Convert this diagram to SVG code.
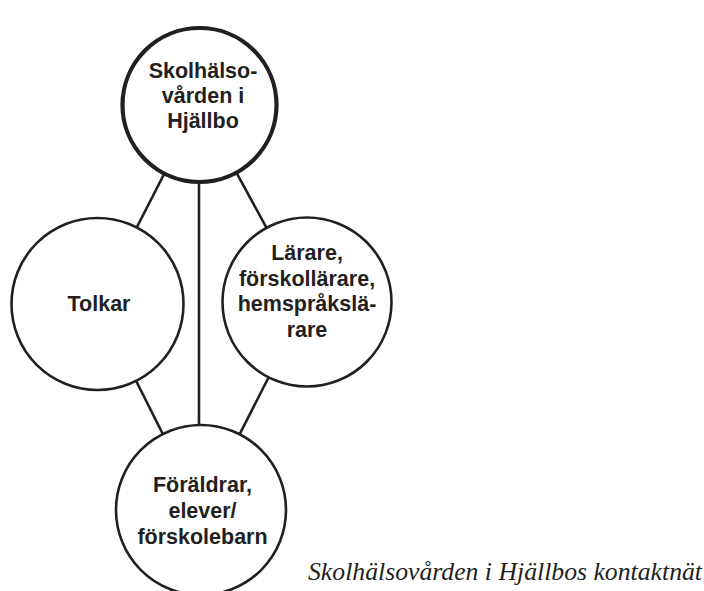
<svg xmlns="http://www.w3.org/2000/svg" width="704" height="591" viewBox="0 0 704 591">
<style>
.n{fill:#fff;stroke:#231f20;stroke-width:2.6}
.main{stroke-width:4.2}
.t{font-family:"Liberation Sans",Arial,sans-serif;font-weight:bold;font-size:21.5px;fill:#231f20;text-anchor:middle}
.c line{stroke:#231f20;stroke-width:2.6}
.cap{font-family:"Liberation Serif","Times New Roman",serif;font-style:italic;font-size:25px;fill:#231f20}
</style>
<rect width="704" height="591" fill="#fff"/>
<g id="connectors" class="c">
<line x1="199.5" y1="105" x2="97.5" y2="304"/>
<line x1="199.5" y1="105" x2="307" y2="302"/>
<line x1="199" y1="105" x2="199" y2="510"/>
<line x1="97.5" y1="304" x2="201" y2="510"/>
<line x1="307" y1="302" x2="201" y2="510"/>
</g>
<g id="skolhalsovarden">
<circle class="n main" cx="199.5" cy="105" r="77"/>
<text class="t" x="203" y="78">Skolhälso-</text>
<text class="t" x="203" y="103">vården i</text>
<text class="t" x="203" y="128">Hjällbo</text>
</g>
<g id="tolkar">
<circle class="n" cx="97.5" cy="304" r="86"/>
<text class="t" x="99" y="311">Tolkar</text>
</g>
<g id="larare">
<circle class="n" cx="307" cy="302" r="84.5"/>
<text class="t" x="307" y="260">Lärare,</text>
<text class="t" x="307" y="285.5">förskollärare,</text>
<text class="t" x="307" y="311">hemspråkslä-</text>
<text class="t" x="307" y="336.5">rare</text>
</g>
<g id="foraldrar">
<circle class="n" cx="201" cy="510" r="85"/>
<text class="t" x="202.5" y="492">Föräldrar,</text>
<text class="t" x="202.5" y="518">elever/</text>
<text class="t" x="202.5" y="544">förskolebarn</text>
</g>
<text class="cap" x="308" y="580" textLength="394" lengthAdjust="spacingAndGlyphs">Skolhälsovården i Hjällbos kontaktnät</text>
</svg>
